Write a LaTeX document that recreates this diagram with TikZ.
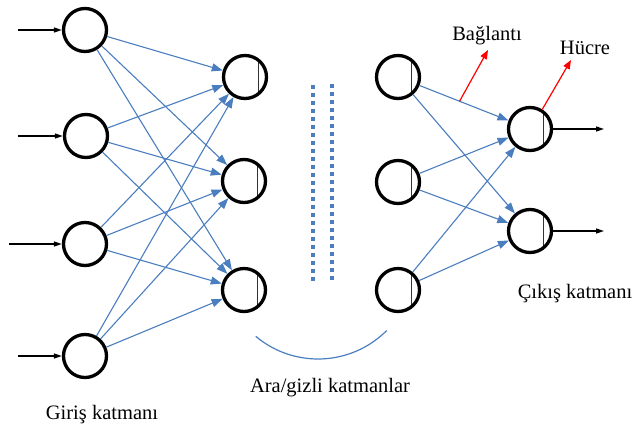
\documentclass[tikz,border=0pt]{standalone}
\usepackage{fontspec}
\setmainfont{Liberation Serif}
\usetikzlibrary{arrows.meta}
\definecolor{linkblue}{RGB}{74,126,190}
\begin{document}
\begin{tikzpicture}[x=1pt,y=-1pt,
  neuron/.style={circle,draw=black,line width=3.3pt,minimum size=43pt,inner sep=0pt},
  cell/.style={neuron,path picture={\draw[line width=0.9pt,black!80]
      ([xshift=13pt]path picture bounding box.north) --
      ([xshift=13pt]path picture bounding box.south);}},
  link/.style={draw=linkblue,line width=1.1pt,-{Triangle[length=11pt,width=8pt]}},
  feed/.style={draw=black,line width=1.4pt,-{Triangle[length=8pt,width=5pt]}},
  callout/.style={draw=red,line width=1.2pt,-{Triangle[length=9pt,width=7pt]}},
  dotcol/.style={draw=linkblue,line width=4pt,dash pattern=on 4pt off 4pt},
  lbl/.style={font=\fontsize{20.5}{24}\selectfont,anchor=base,inner sep=0pt},
]
\useasboundingbox (0,0) rectangle (636,426);

% input layer
\node[neuron] (i1) at (85,30) {};
\node[neuron] (i2) at (86,136) {};
\node[neuron] (i3) at (85,244) {};
\node[neuron] (i4) at (85,356) {};

% first hidden layer
\node[cell] (h1) at (245,77) {};
\node[cell] (h2) at (244,181) {};
\node[cell] (h3) at (244,290) {};

% last hidden layer
\node[cell] (r1) at (398,77) {};
\node[cell] (r2) at (398,182) {};
\node[cell] (r3) at (398,290) {};

% output layer
\node[cell] (o1) at (530,129) {};
\node[cell] (o2) at (530,231) {};

% incoming signals
\coordinate (s1) at (18,30);
\coordinate (s2) at (18,136);
\coordinate (s3) at (9,244);
\coordinate (s4) at (18,356);
\foreach \k in {1,2,3,4} \draw[feed] (s\k) -- (i\k);

% outgoing signals
\coordinate (t1) at (604,129);
\coordinate (t2) at (604,231);
\draw[feed] (o1) -- (t1);
\draw[feed] (o2) -- (t2);

% weighted links
\foreach \a in {i1,i2,i3,i4}
  \foreach \b in {h1,h2,h3}
    \draw[link] (\a) -- (\b);
\draw[link] (r1) -- coordinate[pos=0.45] (tap) (o1);
\draw[link] (r1) -- (o2);
\foreach \a in {r2,r3}
  \foreach \b in {o1,o2}
    \draw[link] (\a) -- (\b);

% elided layers
\draw[dotcol] (313,85) -- (313,283);
\draw[dotcol] (332,84) -- (332,282);
\draw[linkblue,line width=1.2pt] (255.7,336.3) arc[start angle=130,end angle=45,radius=97];

% annotations
\coordinate (bt) at (488,50);
\coordinate (ht) at (571,60);
\draw[callout] (tap) -- (bt);
\draw[callout] (o1.58) -- (ht);

\node[lbl] (lb) at (487,40) {Bağlantı};
\node[lbl] (lh) at (585,54) {Hücre};
\node[lbl] (lhid) at (330,392) {Ara/gizli katmanlar};
\node[lbl] (lin) at (102,419) {Giriş katmanı};
\node[lbl] (lout) at (575,298) {Çıkış katmanı};
\end{tikzpicture}
\end{document}
